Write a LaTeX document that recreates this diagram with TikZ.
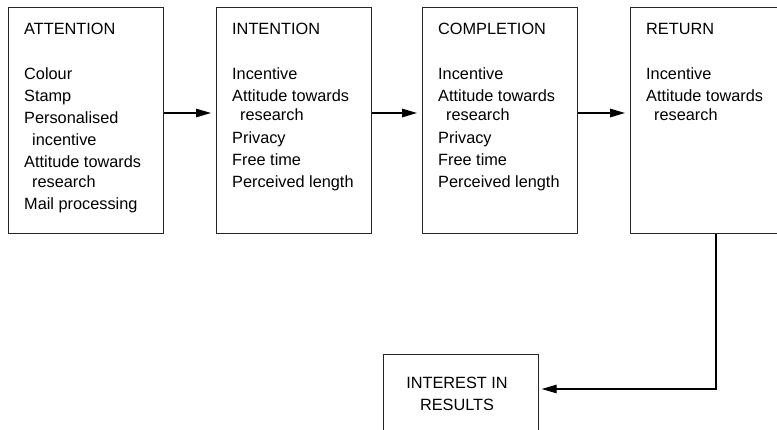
\documentclass[tikz,border=0pt]{standalone}
\usepackage{fontspec}
\setmainfont{Liberation Sans}
\usetikzlibrary{arrows.meta,calc}
\begin{document}
\begin{tikzpicture}[x=1pt,y=-1pt,
  box/.style={draw=black!85, line width=1.2pt, rectangle, inner sep=0pt, anchor=north west},
  txt/.style={anchor=base west, inner sep=0pt, font=\fontsize{16.3}{22}\selectfont},
  lst/.style={anchor=base west, inner sep=0pt, font=\fontsize{16.3}{22}\selectfont},
  arr/.style={draw=black, line width=1.2pt, -{Triangle[length=15pt,width=8.5pt]}, shorten >=5pt}]
\useasboundingbox (0,0) rectangle (777,430);
\clip (0,0) rectangle (777,430);
% boxes
\node[box, minimum width=155pt, minimum height=226pt] (b1) at (8,7) {};
\node[box, minimum width=155pt, minimum height=226pt] (b2) at (216,7) {};
\node[box, minimum width=155pt, minimum height=226pt] (b3) at (422,7) {};
\node[box, minimum width=170pt, minimum height=226pt] (b4) at (630,7) {};
\node[box, minimum width=155pt, minimum height=86pt] (b5) at (383,354) {};
% titles
\node[txt] (t1) at (24,35) {ATTENTION};
\node[txt] (t2) at (232,35) {INTENTION};
\node[txt] (t3) at (438,35) {COMPLETION};
\node[txt] (t4) at (646,35) {RETURN};
% lists
\node[lst] (l1) at (24,80) {\begin{tabular}[t]{@{}l@{}}
Colour\\ Stamp\\ Personalised\\ \hspace*{8pt}incentive\\ Attitude towards\\[-2pt] \hspace*{8pt}research\\ Mail processing
\end{tabular}};
\node[lst] (l2) at (232,80) {\begin{tabular}[t]{@{}l@{}}
Incentive\\ Attitude towards\\[-3pt] \hspace*{8pt}research\\[1pt] Privacy\\ Free time\\ Perceived length
\end{tabular}};
\node[lst] (l3) at (438,80) {\begin{tabular}[t]{@{}l@{}}
Incentive\\ Attitude towards\\[-3pt] \hspace*{8pt}research\\[1pt] Privacy\\ Free time\\ Perceived length
\end{tabular}};
\node[lst] (l4) at (646,80) {\begin{tabular}[t]{@{}l@{}}
Incentive\\ Attitude towards\\[-3pt] \hspace*{8pt}research
\end{tabular}};
\node[anchor=base, inner sep=0pt, align=center, font=\fontsize{16.3}{21.7}\selectfont] (t5) at (457,410) {INTEREST IN\\RESULTS};
% connectors
\coordinate (a1) at (0,113);
\coordinate (c1) at (716,389);
\draw[arr] (b1.east |- a1) -- (b2.west |- a1);
\draw[arr] (b2.east |- a1) -- (b3.west |- a1);
\draw[arr] (b3.east |- a1) -- (b4.west |- a1);
\draw[arr, shorten >=0pt] (b4.south -| c1) -- (c1) -- ([xshift=2.5pt]c1 -| b5.east);
\end{tikzpicture}
\end{document}
